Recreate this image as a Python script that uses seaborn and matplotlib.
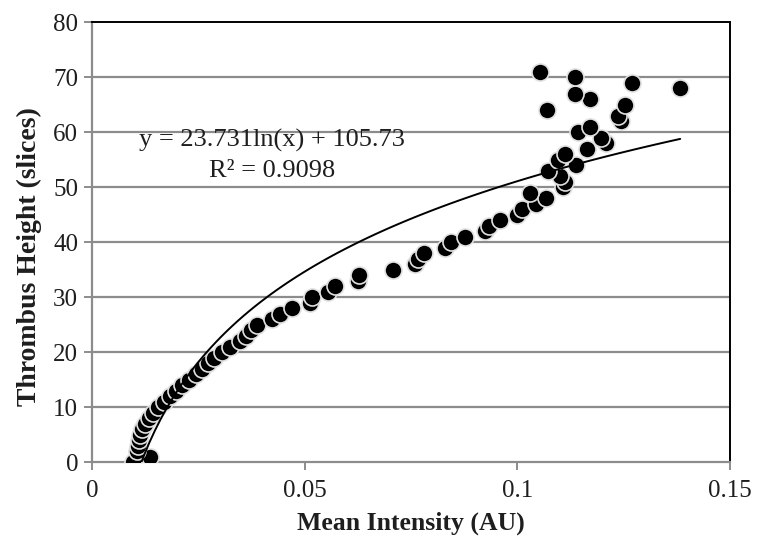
import matplotlib
matplotlib.use("Agg")
import matplotlib.pyplot as plt
import seaborn as sns
import pandas as pd

# Data
mean_intensity = [
    0.0096, 0.0136, 0.0106, 0.0108, 0.0111, 0.0113, 0.0118, 0.0125, 0.0134,
    0.0143, 0.0155, 0.0169, 0.0183, 0.0198, 0.0212, 0.0228, 0.0245, 0.0259,
    0.0273, 0.0287, 0.0306, 0.0324, 0.0348, 0.0362, 0.0374, 0.0388, 0.0423,
    0.0442, 0.0470, 0.0513, 0.0517, 0.0555, 0.0571, 0.0625, 0.0627, 0.0708,
    0.0759, 0.0767, 0.0781, 0.0830, 0.0845, 0.0877, 0.0924, 0.0934, 0.0960,
    0.0999, 0.1010, 0.1044, 0.1067, 0.1030, 0.1107, 0.1112, 0.1100, 0.1072,
    0.1138, 0.1096, 0.1112, 0.1164, 0.1209, 0.1197, 0.1143, 0.1171, 0.1244,
    0.1237, 0.1070, 0.1253, 0.1171, 0.1136, 0.1383, 0.1270, 0.1136, 0.1053,
]
thrombus_height = [
    0, 1, 2, 3, 4, 5, 6, 7, 8,
    9, 10, 11, 12, 13, 14, 15, 16, 17,
    18, 19, 20, 21, 22, 23, 24, 25, 26,
    27, 28, 29, 30, 31, 32, 33, 34, 35,
    36, 37, 38, 39, 40, 41, 42, 43, 44,
    45, 46, 47, 48, 49, 50, 51, 52, 53,
    54, 55, 56, 57, 58, 59, 60, 61, 62,
    63, 64, 65, 66, 67, 68, 69, 70, 71,
]
x_ticks = [0, 0.05, 0.1, 0.15]
x_tick_labels = ["0", "0.05", "0.1", "0.15"]
y_ticks = [0, 10, 20, 30, 40, 50, 60, 70, 80]
equation_text = "y = 23.731ln(x) + 105.73"
r2_text = "R² = 0.9098"
x_label = "Mean Intensity (AU)"
y_label = "Thrombus Height (slices)"

df = pd.DataFrame({"x": mean_intensity, "y": thrombus_height})

sns.set_theme(style="white")
plt.rcParams["font.family"] = ["Liberation Serif", "DejaVu Serif"]

fig = plt.figure(figsize=(7.57, 5.46), dpi=100)
ax = fig.add_axes([0.1215, 0.1538, 0.8428, 0.8059])

grid_gray = "#8c8c8c"
text_col = "#1e1e1e"
for yt in y_ticks[1:-1]:
    ax.axhline(yt, color=grid_gray, lw=1.6, zorder=0)

sns.scatterplot(data=df, x="x", y="y", ax=ax, s=150, color="black",
                edgecolor="#e0e0e0", linewidth=1.2, zorder=3, legend=False)
sns.regplot(data=df, x="x", y="y", ax=ax, logx=True, scatter=False, ci=None,
            truncate=True, line_kws={"color": "black", "lw": 1.4, "zorder": 4})

ax.set_xlim(0, 0.15)
ax.set_ylim(0, 80)
ax.set_xticks(x_ticks)
ax.set_xticklabels(x_tick_labels)
ax.set_yticks(y_ticks)

for side in ["left", "bottom"]:
    ax.spines[side].set_color(grid_gray)
    ax.spines[side].set_linewidth(1.6)
for side in ["top", "right"]:
    ax.spines[side].set_visible(True)
    ax.spines[side].set_color("black")
    ax.spines[side].set_linewidth(1.4)

ax.tick_params(axis="both", which="major", direction="out", length=6, width=1.4,
               color=grid_gray, labelsize=18, labelcolor=text_col,
               left=True, bottom=True, pad=4)
ax.tick_params(axis="x", pad=7)

ax.set_xlabel(x_label, fontsize=18.5, fontweight="bold", color=text_col, labelpad=7)
ax.set_ylabel(y_label, fontsize=20, fontweight="bold", color=text_col)
ax.yaxis.set_label_coords(-0.078, 0.466)

ax.text(0.0423, 58.4, equation_text, ha="center", va="center", fontsize=19,
        color=text_col, zorder=5)
ax.text(0.0423, 53.0, r2_text, ha="center", va="center", fontsize=19,
        color=text_col, zorder=5)

fig.savefig("out.png", dpi=100)
